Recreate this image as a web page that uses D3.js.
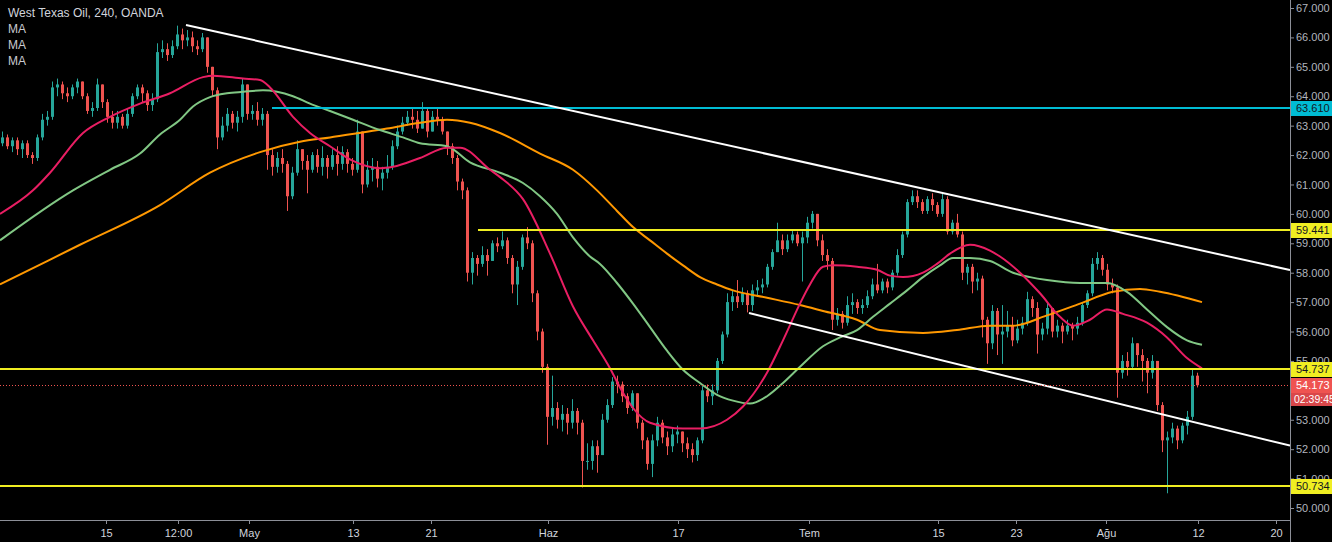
<!DOCTYPE html>
<html><head><meta charset="utf-8">
<script src="https://cdn.jsdelivr.net/npm/d3@7"></script>
<style>html,body{margin:0;padding:0;background:#000;overflow:hidden}</style>
</head><body>
<svg id="chart" width="1332" height="542"></svg>
<script>
// ---------------- DATA ----------------
const title = "West Texas Oil, 240, OANDA";
const legendLabels = ["MA", "MA", "MA"];
const firstOpen = 62.4;
const closes = [
 62.6,62.3,62.5,62.2,62.4,62.0,61.9,62.6,63.2,63.3,
 64.3,64.4,64.1,64.0,64.3,64.5,64.0,63.5,63.6,64.4,
 63.8,63.3,63.1,63.3,63.0,63.4,64.0,64.3,64.1,63.7,
 63.9,65.5,65.6,65.4,65.7,66.1,65.9,66.0,65.7,65.6,
 66.0,65.0,64.2,62.6,63.0,63.4,63.1,63.3,64.4,63.4,
 63.5,63.2,63.4,62.0,61.6,61.9,61.7,60.6,61.4,62.2,
 61.8,61.5,62.0,61.6,61.9,61.6,62.0,61.7,62.1,61.7,
 61.5,62.8,61.0,61.5,61.6,61.2,61.4,61.6,62.3,62.8,
 63.1,63.3,63.2,62.9,63.5,62.8,63.3,63.2,62.8,62.3,
 61.9,61.1,60.8,58.0,58.5,58.3,58.6,58.4,59.0,58.9,
 59.1,58.5,57.6,58.2,59.2,59.0,57.3,56.0,54.8,53.1,
 53.4,53.0,53.2,52.9,53.3,52.9,51.6,51.6,52.1,51.8,
 53.0,53.5,54.3,54.2,53.8,53.4,53.9,52.9,52.3,51.5,
 52.3,52.9,52.4,52.1,52.5,52.6,52.2,52.0,51.8,52.3,
 54.0,53.8,54.0,55.0,55.9,57.0,57.2,57.0,57.3,56.9,
 57.4,57.5,57.6,58.2,58.7,59.1,58.8,59.1,59.3,59.0,
 59.2,59.7,60.0,59.1,58.6,58.4,56.4,56.6,56.3,56.9,
 57.0,56.8,56.9,57.2,57.6,57.4,57.7,57.5,58.0,58.6,
 59.3,60.4,60.6,60.4,60.1,60.5,60.3,60.0,60.5,59.4,
 59.7,59.3,58.0,58.2,57.7,57.8,56.4,55.6,56.7,55.9,
 56.0,56.2,55.7,56.1,56.3,57.1,56.8,55.9,56.1,56.8,
 56.0,56.2,56.0,56.2,56.1,56.3,56.9,57.3,58.3,58.5,
 58.1,57.6,57.5,54.6,55.0,54.8,55.6,55.2,55.0,54.6,
 55.0,53.5,52.3,52.4,52.7,52.3,52.8,53.1,54.5,54.173];
const highs = [
 62.8,62.7,62.6,62.6,62.5,62.5,62.1,62.7,63.4,63.5,
 64.5,64.6,64.5,64.3,64.4,64.6,64.5,64.1,63.8,64.6,
 64.4,63.9,63.5,63.5,63.4,63.6,64.1,64.4,64.4,64.2,
 64.1,65.8,65.9,65.8,65.9,66.4,66.3,66.25,66.2,65.9,
 66.15,66.0,65.0,64.3,63.3,63.6,63.5,63.5,64.6,64.4,
 63.7,63.8,63.6,63.5,62.2,62.1,62.2,61.8,61.6,62.5,
 62.2,62.0,62.1,62.2,62.3,62.0,62.2,62.3,62.3,62.2,
 61.9,63.2,62.8,61.8,61.9,61.8,61.6,62.0,62.5,63.0,
 63.3,63.5,63.6,63.5,63.8,63.6,63.5,63.6,63.3,62.8,
 62.4,62.0,61.2,60.9,58.7,58.6,58.9,58.8,59.1,59.2,
 59.4,59.2,58.6,58.4,59.3,59.55,59.1,57.4,56.1,54.9,
 54.5,53.6,53.5,53.4,53.7,53.4,53.0,52.2,52.3,52.3,
 53.2,53.7,54.45,54.5,54.3,53.9,54.0,53.9,53.0,52.4,
 52.5,53.1,53.0,52.6,52.7,52.8,52.6,52.4,52.2,52.4,
 54.2,54.2,54.2,55.1,56.0,57.3,57.4,57.75,57.5,57.4,
 57.6,57.75,57.8,58.3,58.8,59.7,59.3,59.3,59.45,59.4,
 59.4,59.9,60.1,60.0,59.3,58.8,58.5,56.8,56.7,57.2,
 57.3,57.1,57.1,57.4,57.8,58.3,57.8,57.8,58.1,58.8,
 59.4,60.5,60.8,60.8,60.5,60.6,60.7,60.4,60.7,60.6,
 59.8,60.0,59.4,58.3,58.3,58.0,57.9,56.5,56.9,56.8,
 56.9,56.7,56.5,56.4,56.5,57.35,57.2,57.0,56.3,57.0,
 56.8,56.4,56.3,56.4,56.3,56.5,57.0,57.4,58.5,58.7,
 58.6,58.3,57.8,57.6,55.2,55.3,55.8,55.6,55.4,55.1,
 55.2,55.0,53.6,52.6,52.9,52.8,52.9,53.3,54.7,54.6];
const lows = [
 62.3,62.2,62.1,62.0,61.9,61.9,61.7,61.8,62.5,63.0,
 63.2,64.0,63.9,63.8,63.9,64.1,63.9,63.4,63.3,63.5,
 63.6,63.1,62.9,62.9,62.9,62.9,63.3,63.9,63.8,63.5,
 63.5,63.8,65.3,65.2,65.3,65.6,65.6,65.7,65.5,65.4,
 65.5,64.8,64.0,62.2,62.5,62.8,62.9,62.8,63.1,63.2,
 63.2,63.0,63.0,61.5,61.3,61.4,61.4,60.1,60.5,61.3,
 61.5,60.7,61.4,61.4,61.3,61.2,61.5,61.3,61.5,61.4,
 61.3,61.4,60.7,60.9,61.1,60.9,60.8,61.2,61.5,62.2,
 62.7,63.0,62.9,62.75,62.9,62.6,62.8,63.0,62.7,62.0,
 61.7,60.8,60.5,57.7,57.6,57.9,58.2,57.9,58.4,58.7,
 58.8,58.3,57.3,56.9,58.1,58.8,57.0,55.7,54.6,52.15,
 52.8,52.7,52.6,52.5,52.7,52.5,50.7,51.3,51.3,51.2,
 51.8,52.9,53.4,53.9,53.6,53.2,53.3,52.7,52.0,51.3,
 51.05,52.1,52.2,51.8,51.9,52.2,51.9,51.7,51.55,51.6,
 52.2,53.6,53.5,53.9,54.9,55.8,56.7,56.8,56.9,56.65,
 56.7,57.2,57.3,57.5,58.1,58.7,58.6,58.7,59.0,58.9,
 57.7,59.0,59.5,58.9,58.4,58.1,56.05,56.2,56.1,56.2,
 56.6,56.6,56.6,56.8,57.1,57.3,57.3,57.3,57.4,57.9,
 58.5,59.2,60.3,60.2,60.0,60.0,60.1,59.9,59.9,59.3,
 59.3,59.2,57.75,57.6,57.3,57.4,55.8,54.9,55.4,55.2,
 54.9,55.8,55.5,55.6,55.9,56.2,56.5,55.25,55.7,55.9,
 55.8,55.8,55.6,55.9,55.7,55.9,56.2,56.8,57.2,58.1,
 57.9,57.4,57.3,53.75,54.4,54.5,54.7,54.8,54.3,53.9,
 54.4,53.3,51.9,50.5,52.2,52.0,52.2,52.5,53.0,54.1];

// time axis (bar index of each label)
const timeTickIndex  = [20.8, 35.2, 49.4, 70.2, 85.8, 109.2, 135.2, 161.4, 187.2, 202.8, 220.8, 239.2, 254.8];
const timeTickLabels = ["15", "12:00", "May", "13", "21", "Haz", "17", "Tem", "15", "23", "Ağu", "12", "20"];
// price axis ticks (54.000 sits fully under the last-price tag, so it is not shown)
const priceTicks = [50,51,52,53,55,56,57,58,59,60,61,62,63,64,65,66,67];

// moving averages, sampled [bar index, value]
const maFast = [[-0.4,60.0],[6.2,60.8],[9.6,61.4],[16.2,62.75],[21.6,63.3],[27.6,63.75],[33.6,64.1],[40.2,64.65],[42.2,64.7],[48.2,64.6],[51.6,64.55],[53.6,64.3],[58.2,63.3],[61.6,62.75],[65.6,62.3],[70.2,61.8],[75.6,61.55],[78.2,61.6],[83.6,61.9],[89,62.25],[91.6,62.25],[97.6,61.5],[99.6,61.25],[104.2,60.5],[109.6,58.65],[114.2,56.85],[118.2,55.7],[121.6,54.75],[123.6,54.1],[126.2,53.4],[129.6,52.9],[136.2,52.7],[139.6,52.7],[145,53.0],[148.2,53.45],[153,54.6],[156.2,55.7],[159.6,56.95],[161.6,57.6],[164.2,58.2],[166.2,58.25],[171,58.2],[175,58.1],[177.6,57.9],[180.2,57.85],[184.2,58.0],[187,58.3],[189.6,58.65],[193.6,58.95],[197.6,58.75],[199.6,58.55],[203.6,58.0],[207.6,57.3],[211.6,56.5],[214.2,56.2],[217.6,56.4],[221,56.75],[224.2,56.6],[229,56.3],[233,55.8],[237,55.1],[240,54.75]];
const maMid = [[-0.4,59.1],[14.2,60.8],[21.6,61.5],[27.6,62.05],[31.6,62.7],[35.6,63.2],[38.2,63.65],[41.6,63.97],[45,64.1],[48.2,64.15],[52.2,64.2],[55,64.15],[58.2,64.0],[61.6,63.75],[65.6,63.5],[70.2,63.2],[75.6,62.85],[80.2,62.6],[83.6,62.4],[89,62.3],[93.6,61.75],[99.6,61.4],[104.2,61.05],[107.6,60.6],[111,60.0],[114.2,59.2],[117.6,58.55],[119.6,58.3],[123,57.65],[126.2,56.95],[129.6,56.15],[133,55.35],[136.2,54.7],[139.6,54.25],[143,53.85],[146.2,53.65],[149.6,53.55],[153,53.8],[156.2,54.25],[159.6,54.8],[164.2,55.5],[167.6,55.8],[171,56.05],[174.2,56.5],[177.6,56.95],[181,57.4],[184.2,57.85],[187.6,58.25],[190.2,58.5],[193.6,58.5],[197.6,58.4],[202.2,58.0],[205.6,57.85],[209,57.75],[215.6,57.65],[221,57.65],[225,57.35],[229,56.75],[233,56.15],[237,55.7],[240,55.55]];
const maSlow = [[-0.4,57.6],[15.6,58.95],[31.6,60.3],[41.6,61.4],[51.6,62.1],[59.6,62.45],[65.6,62.6],[77,62.9],[83.6,63.1],[89,63.2],[93.6,63.1],[99.6,62.75],[107.6,62.05],[114.2,61.5],[119,60.8],[123,60.1],[126.2,59.55],[129.6,59.1],[133,58.65],[136.2,58.25],[139.6,57.85],[143,57.6],[146.2,57.4],[153,57.15],[159.6,56.9],[164.2,56.7],[171,56.4],[175.6,56.05],[184.2,55.95],[191,56.05],[197.6,56.2],[202.2,56.2],[209,56.55],[215.6,56.95],[222.2,57.35],[227.6,57.45],[231.6,57.35],[240,57.0]];

// drawn levels and trend lines
const levelPrices = [63.610, 59.441, 54.737, 50.734];
const levelStartIndex = [54, 95.2, -1, -1];
const levelKinds = ["cyan", "yellow", "yellow", "yellow"];
const trendUpper = [[36.8, 66.42], [257.6, 58.09]];
const trendLower = [[149.4, 56.63], [257.6, 52.12]];
const lastPrice = 54.173;
const countdown = "02:39:45";

// ---------------- DRAW ----------------
const W = 1332, H = 542, plotR = 1290, plotB = 520;
const svg = d3.select("#chart");
svg.append("rect").attr("width", W).attr("height", H).attr("fill", "#000");

const x = d3.scaleLinear().domain([0, 257.6]).range([2, plotR]);
const y = d3.scaleLinear().domain([50, 67]).range([508, 8]);

const colors = {up: "#26a69a", down: "#ef5350", fast: "#e91e63", mid: "#81c784", slow: "#ff9800",
  cyan: "#00bcd4", yellow: "#f0ee22", white: "#ffffff", axis: "#8c8f98"};

svg.append("clipPath").attr("id", "plotClip").append("rect")
  .attr("x", 0).attr("y", 0).attr("width", plotR).attr("height", plotB);
const plot = svg.append("g").attr("clip-path", "url(#plotClip)");

// candles
const bars = closes.map((c, i) => ({i, o: i === 0 ? firstOpen : closes[i - 1], c, h: highs[i], l: lows[i]}));
const cg = plot.append("g");
cg.selectAll("line.wick").data(bars).join("line").attr("class", "wick")
  .attr("x1", d => Math.round(x(d.i)) + 0.5).attr("x2", d => Math.round(x(d.i)) + 0.5)
  .attr("y1", d => y(Math.max(d.h, d.o, d.c))).attr("y2", d => y(Math.min(d.l, d.o, d.c)))
  .attr("stroke", d => d.c >= d.o ? colors.up : colors.down).attr("stroke-width", 1);
cg.selectAll("rect.body").data(bars).join("rect").attr("class", "body")
  .attr("x", d => Math.round(x(d.i)) - 1).attr("width", 3)
  .attr("y", d => y(Math.max(d.o, d.c)))
  .attr("height", d => Math.max(1, Math.abs(y(d.o) - y(d.c))))
  .attr("fill", d => d.c >= d.o ? colors.up : colors.down);

// moving averages
const line = d3.line().x(d => x(d[0])).y(d => y(d[1])).curve(d3.curveMonotoneX);
[[maSlow, colors.slow], [maMid, colors.mid], [maFast, colors.fast]].forEach(([data, col]) => {
  plot.append("path").datum(data).attr("d", line).attr("fill", "none")
    .attr("stroke", col).attr("stroke-width", 2).attr("stroke-linejoin", "round");
});

// horizontal levels
levelPrices.forEach((p, k) => {
  plot.append("line").attr("x1", x(levelStartIndex[k])).attr("x2", plotR)
    .attr("y1", Math.round(y(p))).attr("y2", Math.round(y(p)))
    .attr("stroke", colors[levelKinds[k]]).attr("stroke-width", 2);
});
// trend lines
const straight = d3.line().x(d => x(d[0])).y(d => y(d[1]));
[trendUpper, trendLower].forEach(t => {
  plot.append("path").datum(t).attr("d", straight).attr("fill", "none")
    .attr("stroke", colors.white).attr("stroke-width", 2);
});
// last price dotted line
plot.append("line").attr("x1", 0).attr("x2", plotR)
  .attr("y1", Math.round(y(lastPrice)) + 0.5).attr("y2", Math.round(y(lastPrice)) + 0.5)
  .attr("stroke", colors.down).attr("stroke-width", 1).attr("stroke-dasharray", "1,2");

// axes
const fontAxis = "11px 'Liberation Sans', Arial, sans-serif";
svg.append("line").attr("x1", plotR + 0.5).attr("x2", plotR + 0.5).attr("y1", 0).attr("y2", H)
  .attr("stroke", colors.axis).attr("stroke-width", 1);
svg.append("line").attr("x1", 0).attr("x2", plotR).attr("y1", plotB + 0.5).attr("y2", plotB + 0.5)
  .attr("stroke", colors.axis).attr("stroke-width", 1);

const yAxis = d3.axisRight(y).tickValues(priceTicks).tickFormat(d3.format(".3f")).tickSize(4).tickPadding(2);
svg.append("g").attr("transform", `translate(${plotR},0)`).call(yAxis)
  .call(g => g.select(".domain").remove())
  .call(g => g.selectAll("line").attr("stroke", colors.axis))
  .call(g => g.selectAll("text").attr("fill", "#b2b5be").style("font", fontAxis));

const xAxis = d3.axisBottom(x).tickValues(timeTickIndex).tickFormat((d, i) => timeTickLabels[i]).tickSize(4).tickPadding(5);
svg.append("g").attr("transform", `translate(0,${plotB})`).call(xAxis)
  .call(g => g.select(".domain").remove())
  .call(g => g.selectAll("line").attr("stroke", colors.axis))
  .call(g => g.selectAll("text").attr("fill", "#d1d4dc").style("font", fontAxis));

// price labels on axis
function priceTag(p, bg, fg, text) {
  const yy = Math.round(y(p));
  svg.append("rect").attr("x", plotR + 1).attr("y", yy - 7).attr("width", W - plotR).attr("height", 15).attr("fill", bg);
  svg.append("text").attr("x", plotR + 6).attr("y", yy + 4).attr("fill", fg)
    .style("font", fontAxis).text(text);
}
levelPrices.forEach((p, k) => priceTag(p, colors[levelKinds[k]], "#131722", d3.format(".3f")(p)));
priceTag(lastPrice, colors.down, "#ffffff", d3.format(".3f")(lastPrice));
{
  const yy = Math.round(y(lastPrice)) + 8;
  svg.append("rect").attr("x", plotR + 1).attr("y", yy).attr("width", W - plotR).attr("height", 13).attr("fill", "#d9474a");
  svg.append("text").attr("x", plotR + 4).attr("y", yy + 10).attr("fill", "#ffffff")
    .style("font", "10.5px 'Liberation Sans', Arial, sans-serif").text(countdown);
}

// legend
svg.append("text").attr("x", 8).attr("y", 17).attr("fill", "#d1d4dc")
  .style("font", "12px 'Liberation Sans', Arial, sans-serif").text(title);
legendLabels.forEach((t, k) => {
  svg.append("text").attr("x", 8).attr("y", 33 + k * 16).attr("fill", "#c8cad0")
    .style("font", "12px 'Liberation Sans', Arial, sans-serif").text(t);
});
</script>
</body></html>
